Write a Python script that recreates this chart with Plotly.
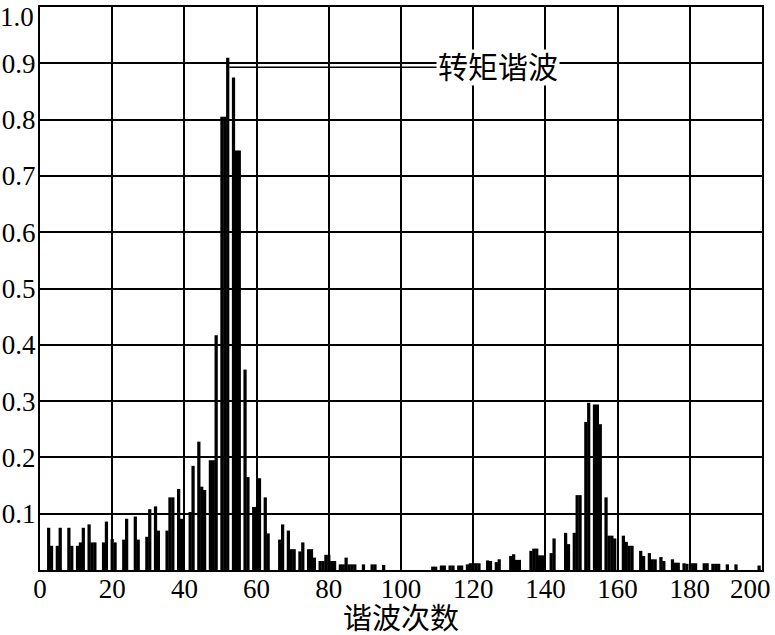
import plotly.graph_objects as go

# Harmonic order of each spectral line and its relative amplitude
orders = [
    2.4, 3.2, 4.8, 5.6, 8.0, 8.8, 10.4, 11.2, 12.0, 13.6, 14.4, 15.2, 17.6, 18.4, 20.0,
    20.8, 23.2, 24.0, 26.4, 27.2, 29.6, 30.4, 32.0, 32.8, 35.2, 36.0, 36.8, 38.4, 39.2,
    41.6, 42.4, 44.0, 44.8, 45.6, 47.2, 48.0, 48.8, 50.4, 51.2, 52.0, 53.6, 54.4, 55.2,
    56.8, 57.6, 59.2, 60.0, 60.8, 62.4, 63.2, 66.4, 67.2, 68.8, 69.6, 70.4, 72.0, 72.8,
    74.4, 75.2, 76.0, 77.6, 78.4, 79.2, 80.0, 80.8, 81.6, 83.2, 84.0, 84.8, 85.6, 86.4,
    87.2, 89.6, 92.0, 92.8, 95.2,
    108.8, 109.6, 111.2, 112.0, 113.6, 114.4, 116.0, 116.8, 118.4, 119.2, 120.0, 120.8,
    121.6, 124.0, 124.8, 126.4, 127.2, 130.4, 131.2, 132.0, 132.8, 136.0, 136.8, 137.6,
    138.4, 139.2,
    141.6, 142.4, 145.6, 146.4, 148.0, 148.8, 149.6, 151.2, 152.0, 153.6, 154.4, 155.2,
    156.8, 157.6, 158.4, 159.2,
    161.6, 162.4, 163.2, 164.0, 166.4, 167.2, 168.8, 169.6, 170.4, 172.0, 172.8, 175.2,
    176.0, 176.8, 178.4, 179.2, 180.8, 181.6, 184.0, 184.8, 186.4, 187.2, 188.0, 190.4,
    192.8, 199.2,
]
amplitudes = [
    0.075, 0.043, 0.043, 0.075, 0.075, 0.043, 0.043, 0.049, 0.075, 0.081, 0.049, 0.049, 0.049, 0.086, 0.055,
    0.049, 0.054, 0.091, 0.095, 0.054, 0.059, 0.108, 0.113, 0.070, 0.070, 0.129, 0.129, 0.144, 0.091,
    0.103, 0.185, 0.228, 0.148, 0.142, 0.195, 0.195, 0.417, 0.805, 0.805, 0.910, 0.875, 0.745, 0.745,
    0.356, 0.165, 0.112, 0.112, 0.163, 0.129, 0.065, 0.054, 0.081, 0.070, 0.037, 0.037, 0.033, 0.049,
    0.037, 0.037, 0.022, 0.016, 0.016, 0.027, 0.027, 0.016, 0.016, 0.010, 0.010, 0.022, 0.010, 0.010,
    0.010, 0.010, 0.010, 0.010, 0.009,
    0.006, 0.006, 0.008, 0.008, 0.008, 0.008, 0.008, 0.008, 0.010, 0.012, 0.012, 0.012,
    0.012, 0.017, 0.016, 0.014, 0.019, 0.025, 0.028, 0.018, 0.018, 0.034, 0.038, 0.038,
    0.026, 0.026,
    0.030, 0.056, 0.066, 0.046, 0.066, 0.133, 0.133, 0.263, 0.297, 0.294, 0.294, 0.259,
    0.129, 0.061, 0.061, 0.056,
    0.061, 0.050, 0.043, 0.043, 0.034, 0.025, 0.030, 0.019, 0.019, 0.023, 0.016, 0.019,
    0.013, 0.013, 0.012, 0.011, 0.012, 0.012, 0.012, 0.012, 0.011, 0.011, 0.011, 0.010,
    0.010, 0.008,
]

x_ticks = [0, 20, 40, 60, 80, 100, 120, 140, 160, 180, 200]
x_tick_labels = ["0", "20", "40", "60", "80", "100", "120", "140", "160", "180", "200"]
y_ticks = [0.1, 0.2, 0.3, 0.4, 0.5, 0.6, 0.7, 0.8, 0.9, 1.0]
y_tick_labels = ["0.1", "0.2", "0.3", "0.4", "0.5", "0.6", "0.7", "0.8", "0.9", "1.0"]
x_title = "谐波次数"
callout_text = "转矩谐波"
callout_level = 0.893
callout_x = 127

peak_i = max(range(len(amplitudes)), key=lambda i: amplitudes[i])
peak_order = orders[peak_i]

SERIF = "Liberation Serif, DejaVu Serif, serif"
CJK = "Liberation Serif, Noto Sans CJK SC, serif"
BAR_W = 0.9
TICK_SIZE = 27

fig = go.Figure()
fig.add_trace(go.Bar(
    x=orders, y=amplitudes, width=BAR_W,
    marker=dict(color="black", line=dict(width=0)),
    hoverinfo="x+y",
))

# leader line from the peak line to the label
fig.add_shape(type="line", xref="x", yref="y",
              x0=peak_order + BAR_W / 2, x1=callout_x, y0=callout_level, y1=callout_level,
              line=dict(color="black", width=1.5), layer="above")
fig.add_annotation(x=callout_x, y=callout_level, xref="x", yref="y",
                   text=callout_text, showarrow=False,
                   font=dict(family=CJK, size=30, color="black"),
                   bgcolor="white", borderpad=1)

# the end labels sit inside the page, as in the reference
fig.add_annotation(x=x_ticks[-1], y=0, xref="x", yref="y",
                   text=x_tick_labels[-1], showarrow=False,
                   xanchor="right", yanchor="top", xshift=11, yshift=-2,
                   font=dict(family=SERIF, size=TICK_SIZE, color="black"))
fig.add_annotation(x=0, y=y_ticks[-1], xref="paper", yref="y",
                   text=y_tick_labels[-1], showarrow=False,
                   xanchor="right", yanchor="top", xshift=-4, yshift=7,
                   font=dict(family=SERIF, size=TICK_SIZE, color="black"))

axis_common = dict(
    showgrid=True, gridcolor="black", gridwidth=2,
    showline=True, linecolor="black", linewidth=2, mirror=True,
    zeroline=False, ticks="", automargin=False,
    ticklabeloverflow="allow",
    tickfont=dict(family=SERIF, size=TICK_SIZE, color="black"),
)

fig.update_layout(
    width=775, height=635,
    margin=dict(l=40, r=13, t=7, b=65),
    plot_bgcolor="white", paper_bgcolor="white",
    showlegend=False,
    xaxis=dict(range=[0, 200], tickvals=x_ticks,
               ticktext=x_tick_labels[:-1] + [""], **axis_common,
               ticklabelstandoff=-6,
               title=dict(text=x_title, font=dict(family=CJK, size=29, color="black"),
                          standoff=0)),
    yaxis=dict(range=[0, 1.0], tickvals=y_ticks,
               ticktext=y_tick_labels[:-1] + [""], **axis_common,
               ticklabelstandoff=-3),
)

fig.write_html("out.html",
               config={"displayModeBar": False},
               post_script="document.body.style.margin='0';document.body.style.overflow='hidden';")
